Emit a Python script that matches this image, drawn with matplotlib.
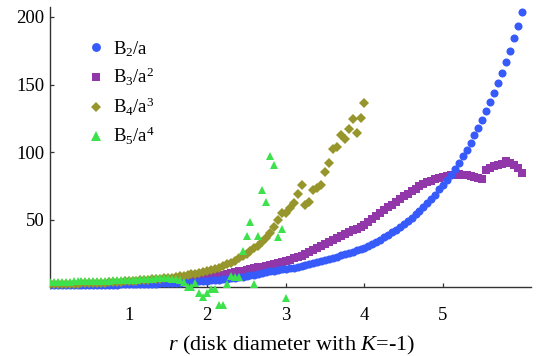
import numpy as np
import matplotlib
matplotlib.use("Agg")
import matplotlib.pyplot as plt

plt.rcParams['font.family'] = ['Liberation Serif', 'DejaVu Serif']
plt.rcParams['mathtext.fontset'] = 'custom'
plt.rcParams['mathtext.rm'] = 'Liberation Serif'
plt.rcParams['mathtext.it'] = 'Liberation Serif:italic'

# r grid, step 0.05
r_b2 = np.round(np.arange(0, 121) * 0.05, 2)
r_b3 = np.round(np.arange(0, 121) * 0.05, 2)
r_b4 = np.round(np.arange(0, 81) * 0.05, 2)
r_b5 = np.round(np.arange(0, 61) * 0.05, 2)

b2 = [1.5, 1.5, 1.5, 1.6, 1.6, 1.6, 1.7, 1.7, 1.7, 1.8, 1.8, 1.8, 1.9, 1.9, 2.0, 2.0, 2.1, 2.1, 2.2, 2.2,
      2.3, 2.4, 2.4, 2.5, 2.6, 2.7, 2.8, 2.9, 3.0, 3.1, 3.2, 3.3, 3.5, 3.6, 3.8, 3.9, 4.1, 4.3, 4.5, 4.7,
      4.9, 5.2, 5.5, 5.8, 6.1, 6.4, 6.8, 7.2, 7.6, 8.0, 8.5, 9.0, 9.5, 10.0, 10.6, 11.2, 11.8, 12.4, 13.0, 13.7,
      13.5, 14.1, 14.7, 15.3, 16.0, 16.6, 17.3, 18.0, 18.8, 19.5, 20.3, 21.1, 21.9, 22.8, 23.7, 24.6, 25.5, 26.5, 27.5, 28.5,
      29.5, 30.8, 32.2, 33.7, 35.3, 37.0, 38.8, 40.7, 42.7, 44.8, 47.0, 49.3, 51.7, 54.2, 56.8, 59.5, 62.3, 65.2, 68.2, 72.7,
      76.0, 79.5, 83.0, 87.5, 92.0, 97.0, 101.9, 107.1, 112.5, 118.2, 124.1, 130.2, 136.9, 143.8, 151.2, 158.8, 166.9, 175.0, 184.1, 193.5,
      203.3]

b3 = [1.6, 1.6, 1.7, 1.7, 1.7, 1.8, 1.8, 1.9, 1.9, 2.0, 2.0, 2.1, 2.1, 2.2, 2.3, 2.3, 2.4, 2.5, 2.6, 2.7,
      2.8, 2.9, 3.0, 3.1, 3.3, 3.4, 3.6, 3.8, 4.0, 4.2, 4.4, 4.7, 5.0, 5.3, 5.6, 5.9, 6.2, 6.5, 6.8, 7.1,
      7.5, 8.0, 8.5, 9.0, 9.5, 10.0, 10.6, 11.2, 11.8, 12.4, 13.0, 13.6, 14.2, 14.8, 15.4, 16.0, 16.7, 17.4, 18.1, 18.8,
      19.5, 20.5, 21.5, 22.5, 23.5, 25.0, 26.3, 27.6, 29.0, 30.5, 32.0, 33.5, 35.0, 36.5, 38.0, 39.5, 41.0, 42.3, 43.5, 44.8,
      46.0, 48.2, 50.4, 52.6, 54.8, 57.0, 59.2, 61.3, 63.4, 65.5, 67.5, 69.4, 71.2, 73.0, 74.8, 76.5, 77.8, 79.0, 80.0, 80.8,
      81.5, 82.2, 82.8, 83.2, 83.5, 83.3, 82.8, 82.3, 81.8, 81.2, 80.5,
      86.5, 88.5, 89.5, 90.5, 91.5, 93.5, 92.0, 90.5, 88.0, 84.5]

b4 = [2.2, 2.3, 2.4, 2.5, 2.6, 2.7, 2.8, 2.9, 3.0, 3.1, 3.2, 3.3, 3.4, 3.5, 3.6, 3.8, 4.0, 4.2, 4.4, 4.6,
      4.7, 4.9, 5.1, 5.3, 5.5, 5.7, 5.9, 6.1, 6.4, 6.7, 7.0, 7.3, 7.7, 8.1, 8.6, 9.1, 9.6, 10.2, 10.8, 11.4,
      12.0, 12.8, 13.7, 14.7, 15.8, 17.0, 18.4, 19.9, 21.5, 23.2, 25.0, 26.9, 28.9, 31.0, 33.5, 36.5, 40.5, 45.0, 50.0, 55.0,
      55.0, 58.5, 62.5, 69.0, 75.5, 61.0, 63.0, 72.0, 73.5, 76.0, 85.0, 92.0, 102.0, 104.0, 112.5, 109.5, 117.0, 124.5, 114.5, 125.0,
      136.0]

b5 = [4.0, 4.1, 4.2, 4.3, 4.3, 4.4, 4.5, 4.5, 4.6, 4.7, 4.7, 4.8, 4.9, 5.0, 5.0, 5.1, 5.2, 5.3, 5.4, 5.5,
      5.6, 5.7, 5.8, 6.0, 6.1, 6.3, 6.5, 6.7, 7.0, 7.3, 7.0, 6.6, 6.2, 5.8,
      4.3, 0.6, 0.6, 3.1, -3.8, -6.8, -4.3, -1.1, -1.1, -12.9, -12.9, 2.5, 8.5, 7.5, 7.5, 26.8, 38.3, 48.7, 2.5, 38.3,
      72.0, 63.4, 97.2, 90.6, 37.6, 43.5, -7.5]

labels = ['B$_2$/a', 'B$_3$/a$^2$', 'B$_4$/a$^3$', 'B$_5$/a$^4$']
colors = ['#375AFA', '#9137AA', '#96962D', '#3CE14B']

fig = plt.figure(figsize=(5.36, 3.56), dpi=100)
ax = fig.add_axes([50 / 536, 1 - 309.1 / 356, 480.7 / 536, 302.1 / 356])

ax.plot(r_b2, b2, ls='none', marker='o', ms=5.8, mew=0, color=colors[0], label=labels[0], zorder=4)
ax.plot(r_b3, b3, ls='none', marker='s', ms=5.2, mew=0, color=colors[1], label=labels[1], zorder=3)
ax.plot(r_b4, b4, ls='none', marker='D', ms=4.6, mew=0, color=colors[2], label=labels[2], zorder=5)
ax.plot(r_b5, b5, ls='none', marker='^', ms=6.2, mew=0, color=colors[3], label=labels[3], zorder=6)

ax.set_xlim(0, 6.115)
ax.set_ylim(-16, 207.3)
for s in ['top', 'right']:
    ax.spines[s].set_visible(False)
ax.spines['bottom'].set_position(('data', 0))
ax.spines['left'].set_bounds(0, 207.3)
for s in ['bottom', 'left']:
    ax.spines[s].set_color('#333333')
    ax.spines[s].set_linewidth(1.0)

ax.set_xticks([1, 2, 3, 4, 5])
ax.set_yticks([50, 100, 150, 200])
ax.tick_params(axis='x', direction='in', length=3, width=0.9, color='#333333', pad=14, labelsize=13.5)
ax.tick_params(axis='y', direction='in', length=3, width=0.9, color='#333333', pad=4, labelsize=13.5)

fig.text(292 / 536, 1 - 345 / 356, r'$\it{r}$ (disk diameter with $\it{K}$=-1)',
         ha='center', va='center', fontsize=16)

leg = ax.legend(loc='upper left', bbox_to_anchor=(87 / 536, 1 - 39 / 356), bbox_transform=fig.transFigure,
                frameon=False, fontsize=13.5, numpoints=1, handlelength=1.0, handletextpad=0.37,
                borderpad=0, borderaxespad=0, labelspacing=0.4, markerscale=1.1)

fig.savefig('out.png', dpi=100)
